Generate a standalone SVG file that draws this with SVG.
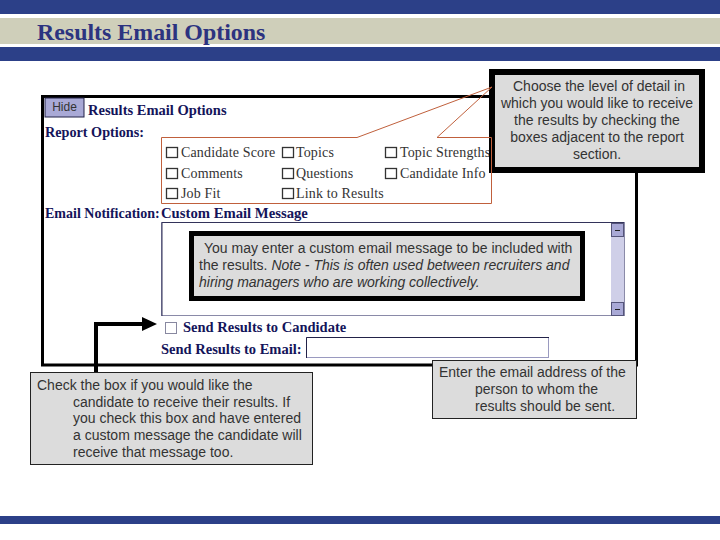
<svg xmlns="http://www.w3.org/2000/svg" width="720" height="540" viewBox="0 0 720 540">
<style>
.bar{fill:#2c4088}
.f{font-family:"Liberation Serif",serif;font-weight:bold;fill:#14145a;font-size:14.5px}
.c{font-family:"Liberation Serif",serif;fill:#333;font-size:14px;letter-spacing:.15px}
.n{font-family:"Liberation Sans",sans-serif;fill:#333;font-size:14px}
.m{text-anchor:middle}
.cb{fill:#fff;stroke:#333;stroke-width:1.3}
.box{fill:#dcdcdc;stroke:#222;stroke-width:1}
</style>
<rect width="720" height="540" fill="#fff"/>
<g id="header">
<rect class="bar" x="0" y="0" width="720" height="14"/>
<rect x="0" y="18" width="720" height="26" fill="#cfcfba"/>
<rect class="bar" x="0" y="47" width="720" height="14"/>
<rect class="bar" x="0" y="516" width="720" height="8"/>
<text x="37" y="40" font-family="Liberation Serif, serif" font-size="23.9" font-weight="bold" fill="#2c3380">Results Email Options</text>
</g>
<g id="window">
<rect x="42.500" y="96.500" width="594" height="268.500" fill="#fff" stroke="#000" stroke-width="3"/>
<rect x="45" y="98" width="39" height="19" fill="#a9a9d6" stroke="#222248" stroke-width="1"/>
<text x="64.500" y="111" class="n m" style="font-size:12px">Hide</text>
<text x="88" y="115" class="f">Results Email Options</text>
<text x="45" y="137" class="f" style="font-size:14.2px">Report Options:</text>
<text x="45" y="218" class="f" style="font-size:14px">Email Notification:</text>
<text x="161" y="218" class="f" style="font-size:14.7px">Custom Email Message</text>
</g>
<g id="report-options">
<rect class="cb" x="166.500" y="147.500" width="11" height="10"/>
<rect class="cb" x="282.500" y="147.500" width="11" height="10"/>
<rect class="cb" x="385.500" y="147.500" width="11" height="10"/>
<rect class="cb" x="166.500" y="168.500" width="11" height="10"/>
<rect class="cb" x="282.500" y="168.500" width="11" height="10"/>
<rect class="cb" x="385.500" y="168.500" width="11" height="10"/>
<rect class="cb" x="166.500" y="188.500" width="11" height="10"/>
<rect class="cb" x="282.500" y="188.500" width="11" height="10"/>
<text x="181" y="157" class="c">Candidate Score</text>
<text x="296" y="157" class="c">Topics</text>
<text x="400" y="157" class="c">Topic Strengths</text>
<text x="181" y="178" class="c">Comments</text>
<text x="296" y="178" class="c">Questions</text>
<text x="400" y="178" class="c">Candidate Info</text>
<text x="181" y="198" class="c">Job Fit</text>
<text x="296" y="198" class="c">Link to Results</text>
</g>
<g id="message-area">
<rect x="161.500" y="222.500" width="463" height="93" fill="#fff" stroke="#8a8aa8" stroke-width="1"/>
<path d="M162 316V222.500H624" fill="none" stroke="#33335a" stroke-width="1"/>
<rect x="611" y="223" width="13" height="92" fill="#cfcfe8"/>
<rect x="611.500" y="223.500" width="12" height="13" fill="#a9a9d6" stroke="#55557a"/>
<rect x="611.500" y="302.500" width="12" height="13" fill="#a9a9d6" stroke="#55557a"/>
<rect x="615" y="230" width="5" height="1" fill="#222"/>
<rect x="615" y="309" width="5" height="1" fill="#222"/>
</g>
<g id="email-controls">
<rect x="165.500" y="322.500" width="11" height="11" fill="#fff" stroke="#8888a0" stroke-width="1"/>
<text x="183" y="332" class="f">Send Results to Candidate</text>
<text x="161" y="354" class="f">Send Results to Email:</text>
<rect x="306.500" y="337.500" width="242" height="20" fill="#fff" stroke="#9a9ac0" stroke-width="1"/>
<path d="M306.500 358V337.500H549" fill="none" stroke="#222248" stroke-width="1"/>
</g>
<g id="note-detail">
<rect x="492" y="72" width="210" height="98" fill="#dcdcdc" stroke="#000" stroke-width="6"/>
<text class="n m" x="599" y="91">Choose the level of detail in</text>
<text class="n m" x="597" y="108">which you would like to receive</text>
<text class="n m" x="597" y="125">the results by checking the</text>
<text class="n m" x="597" y="142">boxes adjacent to the report</text>
<text class="n m" x="597" y="159">section.</text>
</g>
<g id="connectors">
<path d="M357 137.500H161.500V203.500H491.500V137.500H437L492 87 357 137.500" fill="none" stroke="#c0603c" stroke-width="1"/>
<path d="M96 373V324H146" fill="none" stroke="#000" stroke-width="4"/>
<path d="M142 317 157 324 142 331Z" fill="#000"/>
</g>
<g id="note-message">
<rect x="191.500" y="233.500" width="391" height="65" fill="#dcdcdc" stroke="#000" stroke-width="5"/>
<text class="n" x="204" y="253">You may enter a custom email message to be included with</text>
<text class="n" x="199" y="270">the results. <tspan font-style="italic">Note - This is often used between recruiters and</tspan></text>
<text class="n" x="199" y="287" font-style="italic">hiring managers who are working collectively.</text>
</g>
<g id="note-candidate">
<rect class="box" x="30.500" y="372.500" width="282" height="92"/>
<text class="n" x="37" y="390">Check the box if you would like the</text>
<text class="n" x="73" y="407">candidate to receive their results. If</text>
<text class="n" x="73" y="423">you check this box and have entered</text>
<text class="n" x="73" y="440">a custom message the candidate will</text>
<text class="n" x="73" y="457">receive that message too.</text>
</g>
<g id="note-address">
<rect class="box" x="432.500" y="360.500" width="204" height="58"/>
<text class="n" x="439" y="377">Enter the email address of the</text>
<text class="n" x="475" y="394">person to whom the</text>
<text class="n" x="475" y="411">results should be sent.</text>
</g>
</svg>
